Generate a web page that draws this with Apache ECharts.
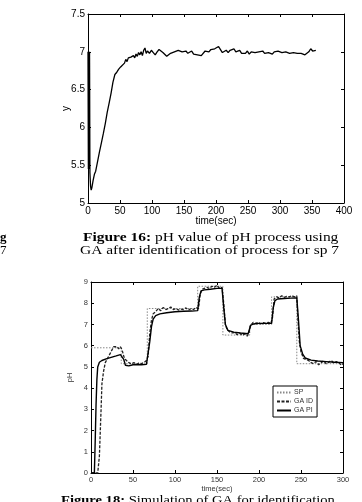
<!DOCTYPE html>
<html>
<head>
<meta charset="utf-8">
<script src="https://cdn.jsdelivr.net/npm/echarts@6/dist/echarts.min.js"></script>
<style>
  html, body { margin: 0; padding: 0; background: #fff; }
  #chart { width: 362px; height: 502px; }
</style>
</head>
<body>
<div id="chart"></div>
<script>
// Figure 16: pH response, [time, y]
const fig16Y = [
  [0, 7.0], [0.6, 5.45], [1.2, 7.0], [1.8, 5.45], [2.4, 7.0], [3, 5.4], [4, 5.22], [5, 5.17], [6, 5.2],
  [8, 5.3], [10, 5.38], [12, 5.42], [15, 5.55], [18, 5.68], [21, 5.8], [24, 5.92], [27, 6.05],
  [30, 6.2], [33, 6.32], [36, 6.45], [39, 6.6], [42, 6.7], [45, 6.73], [48, 6.77], [51, 6.8],
  [54, 6.79], [57, 6.85], [59, 6.9], [61, 6.87], [63, 6.92], [65, 6.9], [67, 6.93], [69, 6.91],
  [71, 6.95], [73, 6.92], [75, 6.97], [77, 6.94], [79, 6.99], [81, 6.96], [83, 7.0], [85, 6.95],
  [87, 7.02], [89, 7.05], [91, 6.98], [93, 7.01], [96, 6.98], [99, 7.02], [102, 6.99], [105, 6.96],
  [108, 7.0], [111, 7.03], [114, 7.05], [117, 6.99], [120, 6.97], [123, 6.94], [126, 6.93],
  [129, 6.98], [132, 6.97], [135, 7.0], [138, 6.99], [141, 7.02], [144, 7.04], [147, 7.0],
  [150, 6.98], [153, 7.01], [156, 6.98], [159, 6.99], [162, 7.01], [165, 6.97], [168, 6.99],
  [171, 6.96], [174, 6.98], [177, 6.95], [180, 6.97], [183, 7.01], [186, 7.02], [189, 7.0],
  [192, 7.03], [195, 7.02], [198, 7.04], [201, 7.03], [204, 7.07], [207, 7.03], [210, 6.99],
  [213, 7.0], [216, 7.02], [219, 6.99], [222, 7.02], [225, 7.01], [228, 7.04], [231, 7.0],
  [234, 6.99], [237, 7.02], [240, 6.98], [243, 7.0], [246, 6.98], [249, 7.01], [252, 6.97],
  [255, 7.0], [258, 7.02], [261, 6.99], [264, 6.97], [267, 7.0], [270, 6.98], [273, 7.01],
  [276, 6.98], [279, 6.96], [282, 6.99], [285, 7.01], [288, 6.97], [291, 7.0], [294, 6.98],
  [297, 7.01], [300, 7.03], [303, 6.99], [306, 6.97], [309, 7.0], [312, 7.01], [315, 6.98],
  [318, 7.0], [321, 6.99], [324, 7.01], [327, 6.98], [330, 7.0], [333, 6.98], [336, 6.99],
  [339, 6.96], [342, 6.98], [345, 7.0], [348, 7.04], [351, 7.01], [354, 7.03], [356, 7.02]
];

// Figure 18: set point and the two responses, [time, pH]
const spData = [
  [0, 5.9], [36, 5.9], [36, 5.15], [67, 5.15], [67, 7.75], [127, 7.75], [127, 8.8], [157, 8.8],
  [157, 6.5], [189, 6.5], [189, 7.0], [215, 7.0], [215, 8.3], [245, 8.3], [245, 5.15], [300, 5.15]
];
const gaIdData = [
  [0, 0], [8, 0], [10, 0.8], [12, 3.0], [13, 4.2], [15, 4.8], [17, 5.2], [19, 5.35], [21, 5.5],
  [23, 5.65], [25, 5.8], [27, 5.95], [29, 5.9], [31, 5.95], [33, 5.85], [35, 5.95], [37, 5.8],
  [39, 5.5], [41, 5.35], [43, 5.4], [45, 5.2], [48, 5.15], [51, 5.2], [54, 5.12], [57, 5.18],
  [60, 5.15], [63, 5.2], [66, 5.3], [68, 5.5], [70, 6.6], [72, 7.2], [74, 7.5], [77, 7.6],
  [80, 7.75], [83, 7.65], [86, 7.8], [89, 7.7], [92, 7.75], [95, 7.82], [98, 7.7], [101, 7.75],
  [104, 7.68], [107, 7.72], [110, 7.7], [113, 7.78], [116, 7.68], [119, 7.74], [122, 7.7],
  [125, 7.8], [128, 7.75], [130, 8.4], [132, 8.65], [135, 8.7], [138, 8.75], [141, 8.7],
  [144, 8.8], [147, 8.75], [150, 8.85], [153, 8.7], [156, 8.75], [158, 8.0], [160, 7.0],
  [162, 6.75], [165, 6.65], [168, 6.6], [171, 6.62], [174, 6.52], [177, 6.58], [180, 6.48],
  [183, 6.55], [186, 6.45], [188, 6.6], [190, 6.95], [193, 7.1], [196, 7.05], [199, 7.1],
  [202, 7.03], [205, 7.08], [208, 7.05], [211, 7.1], [214, 7.05], [216, 7.3], [218, 8.2],
  [221, 8.3], [224, 8.25], [227, 8.35], [230, 8.28], [233, 8.32], [236, 8.3], [239, 8.36],
  [242, 8.3], [245, 8.35], [246, 7.5], [248, 6.2], [250, 5.7], [253, 5.4], [256, 5.35],
  [259, 5.3], [262, 5.2], [265, 5.15], [268, 5.25], [271, 5.1], [274, 5.2], [277, 5.28],
  [280, 5.15], [283, 5.22], [286, 5.3], [289, 5.18], [292, 5.25], [295, 5.2], [298, 5.08], [300, 5.15]
];
const gaPiData = [
  [0, 0], [4, 0], [5, 1.5], [6, 3.2], [7, 4.4], [8, 5.0], [10, 5.22], [13, 5.3], [18, 5.38],
  [24, 5.45], [30, 5.52], [35, 5.58], [37, 5.6], [39, 5.35], [41, 5.08], [45, 5.05], [50, 5.1],
  [55, 5.1], [60, 5.1], [66, 5.12], [68, 5.2], [70, 6.2], [72, 6.9], [74, 7.25], [77, 7.42],
  [82, 7.5], [90, 7.55], [100, 7.6], [110, 7.62], [120, 7.63], [127, 7.65], [129, 8.3],
  [131, 8.58], [135, 8.63], [142, 8.66], [150, 8.7], [156, 8.7], [158, 7.8], [160, 7.0],
  [163, 6.72], [170, 6.64], [178, 6.6], [187, 6.56], [189, 6.6], [190, 6.95], [193, 7.02],
  [200, 7.05], [208, 7.05], [215, 7.05], [217, 7.8], [219, 8.12], [222, 8.2], [230, 8.22],
  [238, 8.24], [245, 8.25], [247, 7.2], [249, 6.0], [252, 5.6], [255, 5.42], [262, 5.32],
  [270, 5.28], [280, 5.25], [290, 5.22], [300, 5.2]
];

const fig18Names = ['SP', 'GA ID', 'GA PI'];

const chart = echarts.init(document.getElementById('chart'));

const sans = 'Liberation Sans';
const serif = 'Liberation Serif';

function boxAxes(gridIndex, xMin, xMax, xStep, yMin, yMax, yStep, labelSize, labelColor, yName, nameGapY, nameGapX) {
  const tick = { show: true, inside: true, length: 3, lineStyle: { color: '#000' } };
  const line = { show: true, onZero: false, lineStyle: { color: '#000', width: 1 } };
  const xs = [
    {
      type: 'value', gridIndex, min: xMin, max: xMax, interval: xStep, position: 'bottom',
      axisLine: line, axisTick: tick, splitLine: { show: false },
      axisLabel: { fontFamily: sans, fontSize: labelSize, color: labelColor, margin: 3 },
      name: 'time(sec)', nameLocation: 'middle', nameGap: nameGapX, nameMoveOverlap: false,
      nameTextStyle: { fontFamily: sans, fontSize: labelSize, color: labelColor }
    },
    {
      type: 'value', gridIndex, min: xMin, max: xMax, interval: xStep, position: 'top',
      axisLine: line, axisTick: tick, axisLabel: { show: false }, splitLine: { show: false }
    }
  ];
  const ys = [
    {
      type: 'value', gridIndex, min: yMin, max: yMax, interval: yStep, position: 'left',
      axisLine: line, axisTick: tick, splitLine: { show: false },
      axisLabel: { fontFamily: sans, fontSize: labelSize, color: labelColor, margin: 3 },
      name: yName, nameLocation: 'middle', nameGap: nameGapY, nameMoveOverlap: false,
      nameTextStyle: { fontFamily: sans, fontSize: labelSize, color: labelColor }
    },
    {
      type: 'value', gridIndex, min: yMin, max: yMax, interval: yStep, position: 'right',
      axisLine: line, axisTick: tick, axisLabel: { show: false }, splitLine: { show: false }
    }
  ];
  return { xs, ys };
}

const upperAxes = boxAxes(0, 0, 400, 50, 5, 7.5, 0.5, 10, '#000', 'y', 17, 13);
const lowerAxes = boxAxes(1, 0, 300, 50, 0, 9, 1, 7.5, '#333', 'pH', 17, 12);

const option = {
  animation: false,
  backgroundColor: '#fff',
  grid: [
    { left: 88, top: 14, width: 256, height: 189 },
    { left: 91, top: 282, width: 252, height: 191 }
  ],
  xAxis: upperAxes.xs.concat(lowerAxes.xs),
  yAxis: upperAxes.ys.concat(lowerAxes.ys),
  legend: {
    data: fig18Names,
    orient: 'vertical',
    left: 273,
    top: 386,
    width: 42,
    padding: [3, 4, 3, 3],
    itemGap: 2,
    itemWidth: 14,
    itemHeight: 7,
    borderColor: '#000',
    borderWidth: 1,
    borderRadius: 0,
    itemStyle: { color: 'transparent', borderWidth: 0 },
    textStyle: { fontFamily: sans, fontSize: 7, color: '#333', padding: [0, 0, 0, -2] }
  },
  series: [
    {
      name: 'pH', type: 'line', xAxisIndex: 0, yAxisIndex: 0, data: fig16Y,
      symbol: 'none', lineStyle: { color: '#000', width: 1.3 }
    },
    {
      name: 'SP', type: 'line', xAxisIndex: 2, yAxisIndex: 2, data: spData,
      symbol: 'none', itemStyle: { color: '#888' },
      lineStyle: { color: '#888', width: 1, type: [1.5, 1.5] }
    },
    {
      name: 'GA ID', type: 'line', xAxisIndex: 2, yAxisIndex: 2, data: gaIdData,
      symbol: 'none', itemStyle: { color: '#222' },
      lineStyle: { color: '#222', width: 1.3, type: [3, 1.5] }
    },
    {
      name: 'GA PI', type: 'line', xAxisIndex: 2, yAxisIndex: 2, data: gaPiData,
      symbol: 'none', itemStyle: { color: '#000' },
      lineStyle: { color: '#000', width: 1.4 }
    }
  ],
  graphic: [
    {
      type: 'text', x: 83, y: 231, scaleX: 1.19,
      style: {
        text: '{b|Figure 16:} pH value of pH process using',
        fontFamily: serif, fontSize: 13, fill: '#000',
        rich: { b: { fontFamily: serif, fontSize: 13, fontWeight: 'bold' } }
      }
    },
    {
      type: 'text', x: 80, y: 244, scaleX: 1.19,
      style: { text: 'GA after identification of process for sp 7', fontFamily: serif, fontSize: 13, fill: '#000' }
    },
    { type: 'text', x: 0, y: 231, style: { text: 'g', fontFamily: serif, fontSize: 13, fontWeight: 'bold', fill: '#000' } },
    { type: 'text', x: 0, y: 244, style: { text: '7', fontFamily: serif, fontSize: 13, fill: '#000' } },
    {
      type: 'text', x: 61, y: 494, scaleX: 1.12,
      style: {
        text: '{b|Figure 18:} Simulation of GA for identification',
        fontFamily: serif, fontSize: 13, fill: '#000',
        rich: { b: { fontFamily: serif, fontSize: 13, fontWeight: 'bold' } }
      }
    }
  ]
};

chart.setOption(option);
</script>
</body>
</html>
